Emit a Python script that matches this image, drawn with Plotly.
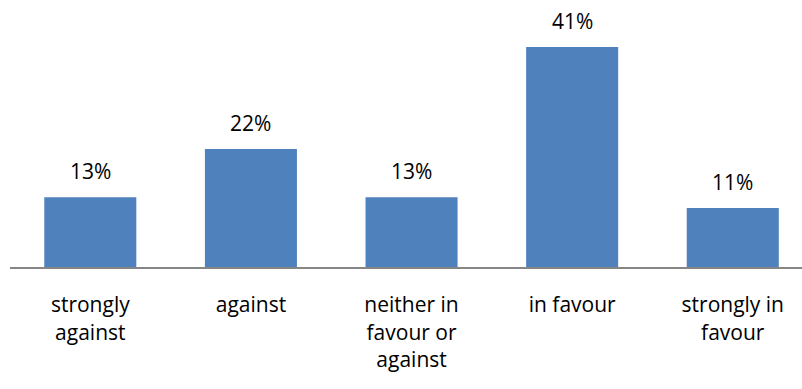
import plotly.graph_objects as go

# Survey responses and their shares (percent)
categories = [
    "strongly<br>against",
    "against",
    "neither in<br>favour or<br>against",
    "in favour",
    "strongly in<br>favour",
]
values = [13, 22, 13, 41, 11]
value_labels = [f"{v}%" for v in values]

BAR_COLOR = "#4F81BD"
FONT = "Open Sans, Calibri, Arial, sans-serif"

fig = go.Figure(
    go.Bar(
        x=categories,
        y=values,
        marker=dict(color=BAR_COLOR, line=dict(width=0)),
        width=0.573,
        hoverinfo="skip",
    )
)

# Percentage labels above each bar
for cat, v, lab in zip(categories, values, value_labels):
    fig.add_annotation(
        x=cat, y=v, text=lab, showarrow=False,
        xanchor="center", yanchor="bottom", yshift=10,
        font=dict(family=FONT, size=21, color="#000000"),
    )

fig.update_layout(
    width=802, height=389,
    margin=dict(l=10, r=0, t=0, b=122),
    paper_bgcolor="white", plot_bgcolor="white",
    showlegend=False,
    bargap=0.427,
    xaxis=dict(
        type="category",
        range=[-0.5, 4.431],
        showline=True, linecolor="#868686", linewidth=2,
        ticks="", showgrid=False, zeroline=False,
        tickfont=dict(family=FONT, size=21, color="#000000"),
        ticklabelstandoff=18,
        fixedrange=True,
    ),
    yaxis=dict(
        range=[0, 49.76], visible=False, showgrid=False, zeroline=False,
        fixedrange=True,
    ),
)

fig.write_html("out.html")
